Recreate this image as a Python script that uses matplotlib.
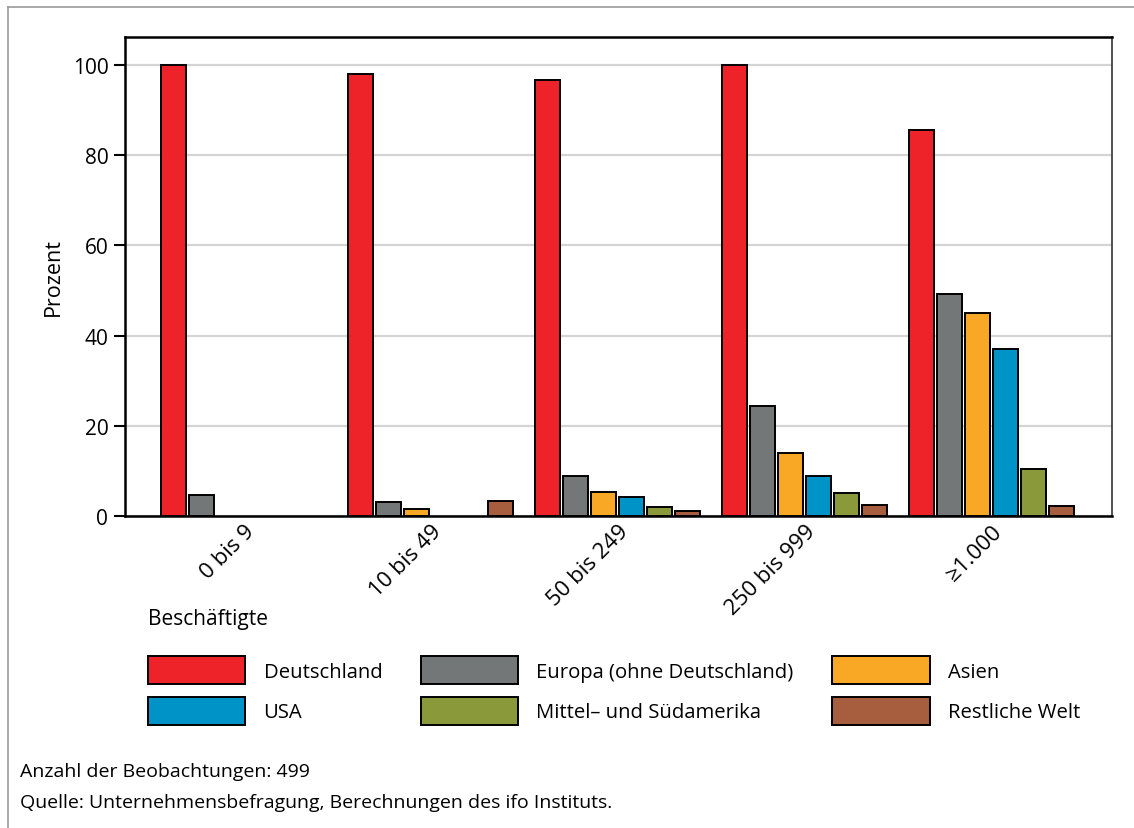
import matplotlib
matplotlib.use("Agg")
import matplotlib.pyplot as plt
from matplotlib.patches import Patch
from matplotlib.lines import Line2D
import numpy as np

plt.rcParams['font.family'] = ['Open Sans', 'DejaVu Sans']

categories = ["0 bis 9", "10 bis 49", "50 bis 249", "250 bis 999", "\u22651.000"]
series_names = ["Deutschland", "Europa (ohne Deutschland)", "Asien", "USA",
                "Mittel\u2013 und Südamerika", "Restliche Welt"]
deutschland = [100.0, 98.0, 96.7, 100.0, 85.6]
europa = [4.6, 3.1, 8.9, 24.4, 49.2]
asien = [0.0, 1.5, 5.3, 14.0, 45.0]
usa = [0.0, 0.0, 4.2, 8.9, 37.0]
mittel_sued = [0.0, 0.0, 2.0, 5.1, 10.4]
rest = [0.0, 3.4, 1.1, 2.4, 2.2]
colors = ["#EE2229", "#737777", "#F9A825", "#0093C8", "#8A9A3A", "#A65E3E"]
yticks = [0, 20, 40, 60, 80, 100]

values = [deutschland, europa, asien, usa, mittel_sued, rest]

W, H = 1134, 829
fig = plt.figure(figsize=(W / 100, H / 100), dpi=100)
ax = fig.add_axes([125 / W, 1 - 517 / H, (1112 - 125) / W, (517 - 38) / H])

x = np.arange(len(categories))
step = 28 / 187
width = 25 / 187
offsets = (np.arange(6) - 2.5) * step
handles = []
for i, (name, vals, c) in enumerate(zip(series_names, values, colors)):
    v = np.array(vals, dtype=float)
    v = np.where(v > 0, v, np.nan)
    ax.bar(x + offsets[i], v, width=width, color=c, edgecolor="black",
           linewidth=1.4, zorder=3)
    handles.append(Patch(facecolor=c, edgecolor="black", linewidth=1.4, label=name))

ax.set_xlim(-0.636, 4.642)
ax.set_ylim(0, 106.2)
ax.set_yticks(yticks)
ax.set_yticklabels([str(t) for t in yticks], fontsize=15)
ax.grid(axis="y", color="#d4d4d4", linewidth=1.6, zorder=0)
ax.set_xticks(x)
ax.set_xticklabels(categories, rotation=45, ha="right", rotation_mode="anchor",
                   fontsize=16)
ax.tick_params(axis="x", length=0, pad=3)
ax.tick_params(axis="y", length=8, width=1.5, pad=4)
for s in ["left", "top", "bottom"]:
    ax.spines[s].set_linewidth(1.8)
    ax.spines[s].set_color("black")
ax.spines["right"].set_linewidth(1.2)
ax.spines["right"].set_color("#333333")
ax.set_ylabel("Prozent", fontsize=15.5, labelpad=6)

fig.text(148 / W, 1 - 620 / H, "Beschäftigte", fontsize=15, va="center", ha="left")

order = [0, 3, 1, 4, 2, 5]
fs = 14.6
fig.legend([handles[i] for i in order], [series_names[i] for i in order],
           ncol=3, loc="upper left", bbox_to_anchor=(148 / W, 1 - 657 / H),
           frameon=False, fontsize=fs, handlelength=4.8, handleheight=1.78,
           handletextpad=0.9, columnspacing=1.9, labelspacing=0.6,
           borderpad=0, borderaxespad=0)

fig.text(20 / W, 1 - 772 / H, "Anzahl der Beobachtungen: 499", fontsize=14,
         va="center", ha="left")
fig.text(20 / W, 1 - 803 / H, "Quelle: Unternehmensbefragung, Berechnungen des ifo Instituts.",
         fontsize=14, va="center", ha="left")

fig.add_artist(Line2D([8 / W, 1], [1 - 8 / H, 1 - 8 / H], transform=fig.transFigure,
                      color="#9a9a9a", linewidth=1.2))
fig.add_artist(Line2D([8 / W, 8 / W], [0, 1 - 8 / H], transform=fig.transFigure,
                      color="#9a9a9a", linewidth=1.2))

fig.savefig("out.png", dpi=100, facecolor="white")
